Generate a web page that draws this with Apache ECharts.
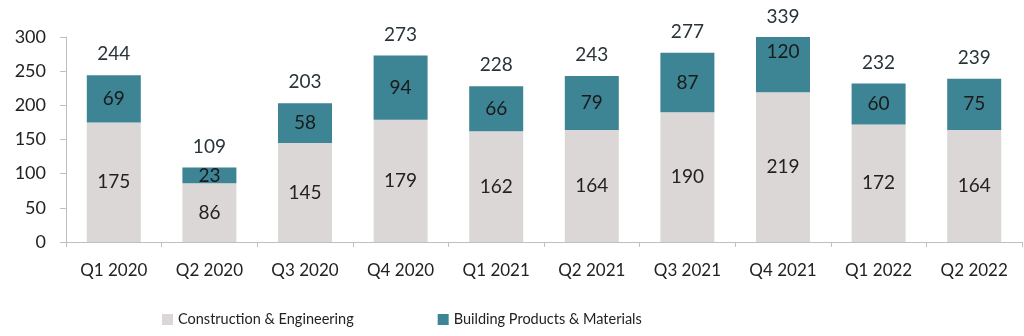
<!DOCTYPE html>
<html><head><meta charset="utf-8">
<script src="https://cdn.jsdelivr.net/npm/echarts@6/dist/echarts.min.js"></script>
<style>html,body{margin:0;padding:0;background:#fff}#c{width:1024px;height:336px}</style>
</head><body><div id="c"></div>
<script>
const categories = ['Q1 2020','Q2 2020','Q3 2020','Q4 2020','Q1 2021','Q2 2021','Q3 2021','Q4 2021','Q1 2022','Q2 2022'];
const construction = [175,86,145,179,162,164,190,219,172,164];
const building = [69,23,58,94,66,79,87,120,60,75];
const totals = [244,109,203,273,228,243,277,339,232,239];
const yTicks = [0,50,100,150,200,250,300];

const FONT = 'Lato';
const chart = echarts.init(document.getElementById('c'));
const axisMax = yTicks[yTicks.length-1];
chart.setOption({
  animation:false,
  textStyle:{fontFamily:FONT},
  grid:{left:66,right:2,top:37,bottom:94},
  legend:{
    bottom:4,left:157,itemWidth:11,itemHeight:11,itemGap:84,icon:'rect',
    textStyle:{fontFamily:FONT,fontSize:14.5,color:'#222'},
    data:['Construction & Engineering','Building Products & Materials']
  },
  xAxis:{type:'category',data:categories,
    axisLine:{lineStyle:{color:'#bfbfbf'}},
    axisTick:{show:true,length:5,lineStyle:{color:'#bfbfbf'}},
    axisLabel:{fontFamily:FONT,fontSize:17,color:'#222',margin:20}
  },
  yAxis:{type:'value',min:yTicks[0],max:axisMax,interval:yTicks[1]-yTicks[0],
    axisLine:{show:true,lineStyle:{color:'#bfbfbf'}},
    axisTick:{show:true,length:6,lineStyle:{color:'#bfbfbf'}},
    splitLine:{show:false},
    axisLabel:{fontFamily:FONT,fontSize:18,color:'#222',margin:20}
  },
  series:[
    {name:'Construction & Engineering',type:'bar',stack:'s',barWidth:54,
     itemStyle:{color:'#dcd7d7'},
     label:{show:true,position:'inside',fontFamily:FONT,fontSize:19,color:'#222'},
     data:construction},
    {name:'Building Products & Materials',type:'bar',stack:'s',barWidth:54,
     itemStyle:{color:'#3d8494'},
     label:{show:true,position:'inside',fontFamily:FONT,fontSize:19,color:'#1a1a1a'},
     data:building.map((v,i)=> (construction[i]+v>axisMax)
        ? {value:v,label:{offset:[0,-13]}} : v)},
    {name:'Total',type:'scatter',symbolSize:1,clip:false,silent:true,
     itemStyle:{color:'rgba(0,0,0,0)',opacity:1},
     label:{show:true,position:'top',distance:11,fontFamily:FONT,fontSize:19,color:'#2a3438',opacity:1},
     data:totals.map(v=> v>axisMax ? {value:v,label:{position:'inside',offset:[0,7]}} : v)}
  ]
});
</script></body></html>
